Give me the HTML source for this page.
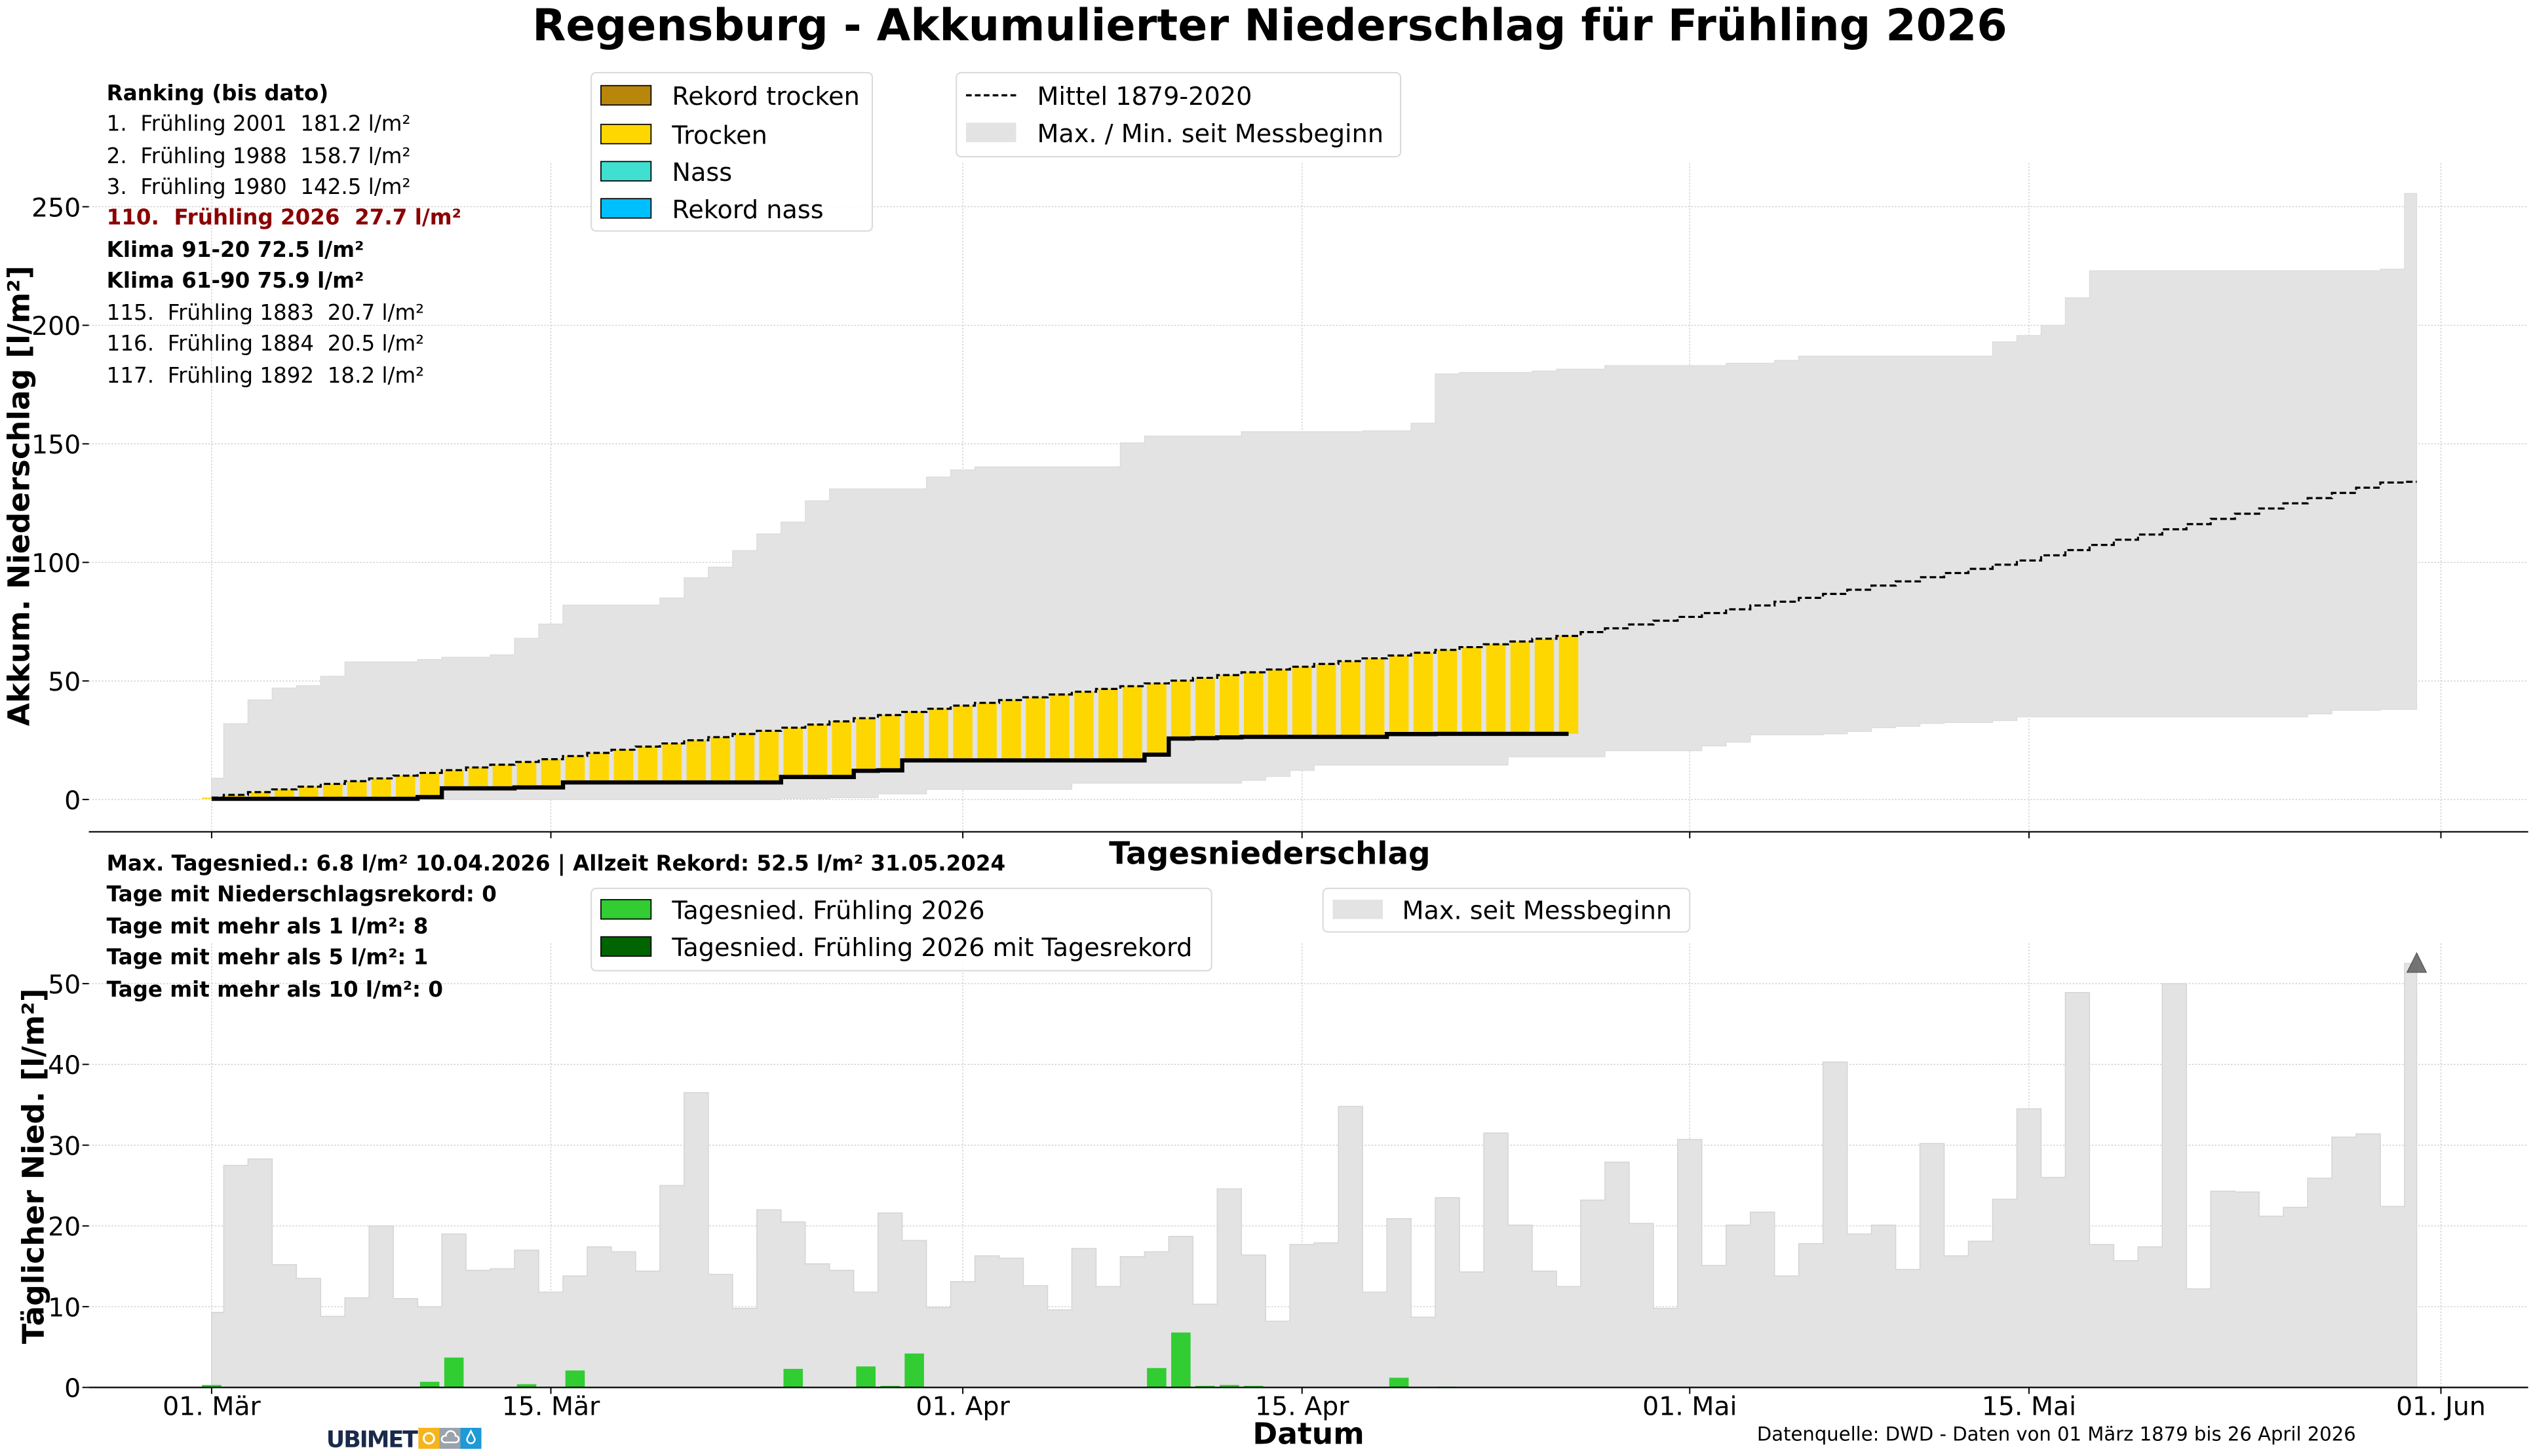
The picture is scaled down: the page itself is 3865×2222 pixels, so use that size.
<!DOCTYPE html>
<html><head><meta charset="utf-8">
<style>
html,body{margin:0;padding:0;background:#fff;}
svg{display:block;font-family:"DejaVu Sans","Liberation Sans",sans-serif;}
svg text{white-space:pre;}
</style></head>
<body>
<svg id="s" xmlns="http://www.w3.org/2000/svg" width="3865" height="2222" viewBox="0 0 1568 901.45" xml:space="preserve">
<rect width="1568" height="902" fill="#fff"/>
<g id="grid"></g>
<g id="data"></g>
<text x="786" y="25" font-size="27" font-weight="bold" text-anchor="middle">Regensburg - Akkumulierter Niederschlag für Frühling 2026</text>
<g font-size="13.2">
<text x="66" y="62" font-weight="bold">Ranking (bis dato)</text>
<text x="66" y="81">1.  Frühling 2001  181.2 l/m²</text>
<text x="66" y="101">2.  Frühling 1988  158.7 l/m²</text>
<text x="66" y="120">3.  Frühling 1980  142.5 l/m²</text>
<text x="66" y="139" font-weight="bold" fill="#8b0000">110.  Frühling 2026  27.7 l/m²</text>
<text x="66" y="159" font-weight="bold">Klima 91-20 72.5 l/m²</text>
<text x="66" y="178" font-weight="bold">Klima 61-90 75.9 l/m²</text>
<text x="66" y="198">115.  Frühling 1883  20.7 l/m²</text>
<text x="66" y="217">116.  Frühling 1884  20.5 l/m²</text>
<text x="66" y="237">117.  Frühling 1892  18.2 l/m²</text>
</g>
<rect x="366" y="45" width="174" height="98" rx="3" fill="#fff" fill-opacity="0.85" stroke="#d8d8d8" stroke-width="0.8"/>
<g font-size="15.5">
<rect x="372" y="53" width="31" height="12" fill="#b8860b" stroke="#000" stroke-width="0.7"/><text x="416" y="65">Rekord trocken</text>
<rect x="372" y="77" width="31" height="12" fill="#ffd700" stroke="#000" stroke-width="0.7"/><text x="416" y="89">Trocken</text>
<rect x="372" y="100" width="31" height="12" fill="#40e0d0" stroke="#000" stroke-width="0.7"/><text x="416" y="112">Nass</text>
<rect x="372" y="123" width="31" height="12" fill="#00bfff" stroke="#000" stroke-width="0.7"/><text x="416" y="135">Rekord nass</text>
</g>
<rect x="592" y="45" width="275" height="52" rx="3" fill="#fff" fill-opacity="0.85" stroke="#d8d8d8" stroke-width="0.8"/>
<g font-size="15.5">
<line x1="598" y1="59" x2="630" y2="59" stroke="#000" stroke-width="1.4" stroke-dasharray="3.5,2"/><text x="642" y="65">Mittel 1879-2020</text>
<rect x="598" y="76" width="31" height="12" fill="#e3e3e3"/><text x="642" y="88">Max. / Min. seit Messbeginn</text>
</g>
<text transform="translate(18,307) rotate(-90)" font-size="18.5" font-weight="bold" text-anchor="middle">Akkum. Niederschlag [l/m²]</text>
<text transform="translate(27,722) rotate(-90)" font-size="18.5" font-weight="bold" text-anchor="middle">Täglicher Nied. [l/m²]</text>
<text x="786" y="535" font-size="19" font-weight="bold" text-anchor="middle">Tagesniederschlag</text>
<text x="810" y="894" font-size="18.5" font-weight="bold" text-anchor="middle">Datum</text>
<g font-size="13.2" font-weight="bold">
<text x="66" y="539">Max. Tagesnied.: 6.8 l/m² 10.04.2026 | Allzeit Rekord: 52.5 l/m² 31.05.2024</text>
<text x="66" y="558">Tage mit Niederschlagsrekord: 0</text>
<text x="66" y="578">Tage mit mehr als 1 l/m²: 8</text>
<text x="66" y="597">Tage mit mehr als 5 l/m²: 1</text>
<text x="66" y="617">Tage mit mehr als 10 l/m²: 0</text>
</g>
<rect x="366" y="550" width="384" height="51" rx="3" fill="#fff" fill-opacity="0.85" stroke="#d8d8d8" stroke-width="0.8"/>
<g font-size="15.5">
<rect x="372" y="557" width="31" height="12" fill="#32cd32" stroke="#000" stroke-width="0.7"/><text x="416" y="569">Tagesnied. Frühling 2026</text>
<rect x="372" y="580" width="31" height="12" fill="#006400" stroke="#000" stroke-width="0.7"/><text x="416" y="592">Tagesnied. Frühling 2026 mit Tagesrekord</text>
</g>
<rect x="819" y="550" width="227" height="27" rx="3" fill="#fff" fill-opacity="0.85" stroke="#d8d8d8" stroke-width="0.8"/>
<g font-size="15.5">
<rect x="825" y="557" width="31" height="12" fill="#e3e3e3"/><text x="868" y="569">Max. seit Messbeginn</text>
</g>
<text x="1273" y="892" font-size="11.8" text-anchor="middle">Datenquelle: DWD - Daten von 01 März 1879 bis 26 April 2026</text>
<text x="202" y="896" font-size="14" font-weight="bold" fill="#1a2a4a" letter-spacing="-0.8" textLength="56" lengthAdjust="spacingAndGlyphs">UBIMET</text>
<rect x="259" y="884" width="13" height="13" fill="#f5b51b"/>
<rect x="272" y="884" width="13" height="13" fill="#9aa3ab"/>
<rect x="285" y="884" width="13" height="13" fill="#1e9ad6"/>
<circle cx="265.5" cy="890.5" r="3.2" fill="none" stroke="#fff" stroke-width="1.2"/>
<path d="M275 893 h7 a2 2 0 0 0 0-4 a3 3 0 0 0-6 0 a2 2 0 0 0-1 4z" fill="none" stroke="#fff" stroke-width="1"/>
<path d="M291.5 886 l-2.3 4.5 a2.4 2.4 0 1 0 4.6 0z" fill="none" stroke="#fff" stroke-width="1"/>
</svg>
<script>
(function(){
var NS="http://www.w3.org/2000/svg";
function el(parent,tag,attrs,txt){var e=document.createElementNS(NS,tag);for(var k in attrs)e.setAttribute(k,attrs[k]);if(txt!==undefined)e.textContent=txt;parent.appendChild(e);return e;}
var grid=document.getElementById('grid'),data=document.getElementById('data');
var X=function(d){return 131+15*d;};
var YT=function(v){return 495-1.468*v;};
var YB=function(v){return 859-5*v;};
var ticks=[[0,'01. Mär'],[14,'15. Mär'],[31,'01. Apr'],[45,'15. Apr'],[61,'01. Mai'],[75,'15. Mai'],[92,'01. Jun']];
var gs={stroke:'#c8c8c8','stroke-width':0.5,'stroke-dasharray':'1,1'};
function g(o){var a={};for(var k in gs)a[k]=gs[k];for(var k in o)a[k]=o[k];return a;}
for(var v=0;v<=250;v+=50){el(grid,'line',g({x1:55,x2:1565,y1:YT(v),y2:YT(v)}));
 el(grid,'text',{x:50,y:YT(v)+6,'font-size':16,'text-anchor':'end'},String(v));
 el(grid,'line',{x1:51,x2:55,y1:YT(v),y2:YT(v),stroke:'#000','stroke-width':0.8});}
for(var v=0;v<=50;v+=10){el(grid,'line',g({x1:55,x2:1565,y1:YB(v),y2:YB(v)}));
 el(grid,'text',{x:50,y:YB(v)+6,'font-size':16,'text-anchor':'end'},String(v));
 el(grid,'line',{x1:51,x2:55,y1:YB(v),y2:YB(v),stroke:'#000','stroke-width':0.8});}
ticks.forEach(function(t){var x=X(t[0]);
 el(grid,'line',g({x1:x,x2:x,y1:101,y2:515}));
 el(grid,'line',g({x1:x,x2:x,y1:584,y2:859}));
 el(grid,'line',{x1:x,x2:x,y1:515,y2:519,stroke:'#000','stroke-width':0.8});
 el(grid,'line',{x1:x,x2:x,y1:859,y2:863,stroke:'#000','stroke-width':0.8});
 el(grid,'text',{x:x,y:876,'font-size':16,'text-anchor':'middle'},t[1]);
});
function expand(spec){var a=[];spec.forEach(function(s){for(var i=0;i<s[0];i++)a.push(s[1]);});return a;}
var mx=expand([[1,9],[1,32],[1,42],[1,47],[1,48],[1,52],[3,58],[1,59],[2,60],[1,61],[1,68],[1,74],[4,82],[1,85],[1,93.5],[1,98],[1,105],[1,112],[1,117],[1,126],[4,131],[1,136],[1,139],[6,140.3],[1,150.4],[4,153.3],[5,155.1],[2,155.5],[1,158.7],[1,179.5],[3,180.1],[1,180.7],[2,181.5],[5,183],[2,184],[1,185.2],[8,187],[1,193],[1,195.7],[1,200],[1,211.6],[12,223],[1,223.7],[1,255.6]]);
var mn=expand([[24,0],[2,0.4],[2,0.8],[2,2.4],[6,4.3],[7,6.9],[1,8.1],[1,9.7],[1,12.3],[8,14.5],[4,18],[4,20.6],[1,22.6],[1,24.2],[3,27.3],[1,27.7],[1,28.7],[1,30.3],[1,30.9],[1,32.1],[2,32.5],[1,33.3],[12,34.9],[1,36.1],[2,37.6],[2,38]]);
var dmax=[9.3,27.5,28.3,15.2,13.5,8.8,11.1,20,11,10,19,14.5,14.7,17,11.8,13.8,17.4,16.8,14.4,25,36.5,14,9.8,22,20.5,15.3,14.5,11.8,21.6,18.2,9.9,13.1,16.3,16,12.6,9.6,17.2,12.5,16.2,16.8,18.7,10.3,24.6,16.4,8.2,17.7,17.9,34.8,11.8,20.9,8.7,23.5,14.3,31.5,20.1,14.4,12.5,23.2,27.9,20.3,9.8,30.7,15.1,20.1,21.7,13.8,17.8,40.3,19,20.1,14.6,30.2,16.3,18.1,23.3,34.5,26,48.9,17.7,15.7,17.4,50,12.2,24.3,24.2,21.2,22.3,25.9,31,31.4,22.4,52.5];
var rain={0:0.3,9:0.7,10:3.7,13:0.4,15:2.1,24:2.3,27:2.6,28:0.2,29:4.2,39:2.4,40:6.8,41:0.2,42:0.3,43:0.2,49:1.2,51:0.1};
var mp=[[0,0.8],[14,17],[31,39.6],[45,56],[56,69],[66.6,86],[75,100.8],[90,133.7],[91,134]];
function mean(d){for(var i=1;i<mp.length;i++){if(d<=mp[i][0]){var a=mp[i-1],b=mp[i];return a[1]+(b[1]-a[1])*(d-a[0])/(b[0]-a[0]);}}return 134;}
function stepPts(arr,yf,end){var p=[];for(var d=0;d<arr.length;d++){var x0=Math.max(d-0.5,0),x1=Math.min(d+0.5,end);p.push(X(x0).toFixed(2)+','+yf(arr[d]).toFixed(2));p.push(X(x1).toFixed(2)+','+yf(arr[d]).toFixed(2));}return p;}
var up=stepPts(mx,YT,91),lo=stepPts(mn,YT,91).reverse();
el(data,'polygon',{points:up.concat(lo).join(' '),fill:'#e3e3e3',stroke:'#dadada','stroke-width':0.5});
var cum=[],c=0;for(var d=0;d<=56;d++){c+=(rain[d]||0);cum.push(c);}
for(var d=0;d<=56;d++){var m=mean(d),b=cum[d];var y1=YT(m),y2=YT(b);
 el(data,'rect',{x:X(d-0.4),y:y1,width:12,height:Math.max(y2-y1,0.5),fill:'#ffd700'});}
var mv=[];for(var d=0;d<=91;d++)mv.push(mean(d));
el(data,'polyline',{points:stepPts(mv,YT,91).join(' '),fill:'none',stroke:'#000','stroke-width':1.3,'stroke-dasharray':'4,2'});
el(data,'polyline',{points:stepPts(cum,YT,56).join(' '),fill:'none',stroke:'#000','stroke-width':2.6});
el(data,'polygon',{points:(X(0)+','+YB(0)+' ')+stepPts(dmax,YB,91).join(' ')+' '+X(91)+','+YB(0),fill:'#e3e3e3',stroke:'#d4d4d4','stroke-width':0.6});
for(var k in rain){var d=+k,v=rain[k];el(data,'rect',{x:X(d-0.4),y:YB(v),width:12,height:5*v,fill:'#32cd32'});}
el(data,'polygon',{points:'1496,590 1490,602 1502,602',fill:'#666','fill-opacity':0.9,stroke:'#555','stroke-width':0.5});
el(data,'line',{x1:55,x2:1565,y1:515,y2:515,stroke:'#000','stroke-width':0.9});
el(data,'line',{x1:55,x2:1565,y1:859,y2:859,stroke:'#000','stroke-width':0.9});
})();
</script>
</body></html>
